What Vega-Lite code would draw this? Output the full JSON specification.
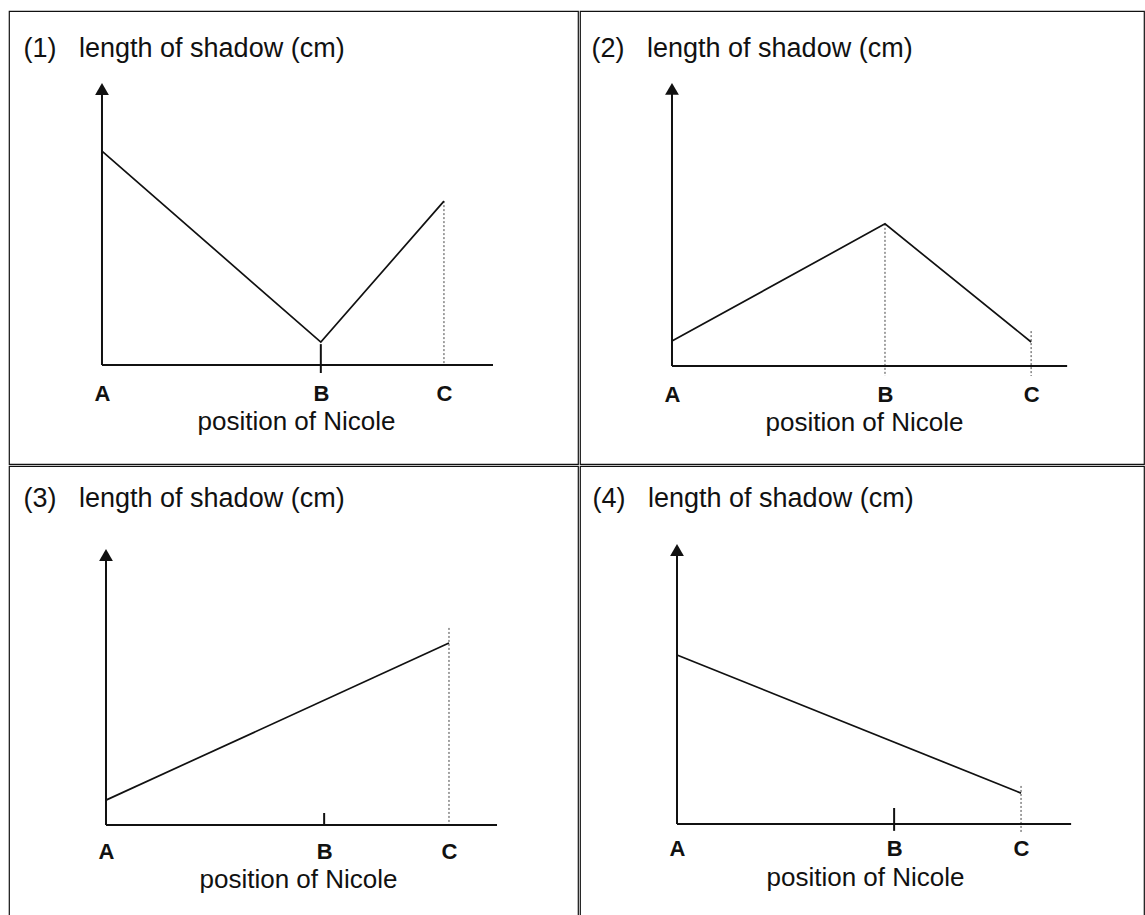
{
  "$schema": "https://vega.github.io/schema/vega-lite/v6.json",
  "background": "white",
  "padding": {"left": 8, "top": 10, "right": 0, "bottom": 0},
  "data": {"values": [
    {"panel": 1, "kind": "curve", "x": 0, "y": 7.48},
    {"panel": 1, "kind": "curve", "x": 6.38, "y": 0.8},
    {"panel": 1, "kind": "curve", "x": 9.97, "y": 5.73},
    {"panel": 1, "kind": "axis", "x": 0, "y": 0, "x2": 11.4, "y2": 0},
    {"panel": 1, "kind": "axis", "x": 0, "y": 0, "x2": 0, "y2": 9.65},
    {"panel": 1, "kind": "arrow", "x": 0, "y": 9.65},
    {"panel": 1, "kind": "guide", "x": 9.97, "y": 5.73, "x2": 9.97, "y2": 0},
    {"panel": 1, "kind": "tick", "x": 6.38, "y": 0.73, "x2": 6.38, "y2": -0.28},

    {"panel": 2, "kind": "curve", "x": 0, "y": 0.87},
    {"panel": 2, "kind": "curve", "x": 6.21, "y": 4.97},
    {"panel": 2, "kind": "curve", "x": 10.47, "y": 0.84},
    {"panel": 2, "kind": "axis", "x": 0, "y": 0, "x2": 11.52, "y2": 0},
    {"panel": 2, "kind": "axis", "x": 0, "y": 0, "x2": 0, "y2": 9.69},
    {"panel": 2, "kind": "arrow", "x": 0, "y": 9.69},
    {"panel": 2, "kind": "guide", "x": 6.21, "y": 4.97, "x2": 6.21, "y2": -0.35},
    {"panel": 2, "kind": "guide", "x": 10.47, "y": 1.22, "x2": 10.47, "y2": -0.35},

    {"panel": 3, "kind": "curve", "x": 0, "y": 0.87},
    {"panel": 3, "kind": "curve", "x": 10.0, "y": 6.36},
    {"panel": 3, "kind": "axis", "x": 0, "y": 0, "x2": 11.4, "y2": 0},
    {"panel": 3, "kind": "axis", "x": 0, "y": 0, "x2": 0, "y2": 9.44},
    {"panel": 3, "kind": "arrow", "x": 0, "y": 9.44},
    {"panel": 3, "kind": "guide", "x": 10.0, "y": 6.89, "x2": 10.0, "y2": 0},
    {"panel": 3, "kind": "tick", "x": 6.36, "y": 0.42, "x2": 6.36, "y2": 0},

    {"panel": 4, "kind": "curve", "x": 0, "y": 5.91},
    {"panel": 4, "kind": "curve", "x": 10.03, "y": 1.08},
    {"panel": 4, "kind": "axis", "x": 0, "y": 0, "x2": 11.49, "y2": 0},
    {"panel": 4, "kind": "axis", "x": 0, "y": 0, "x2": 0, "y2": 9.58},
    {"panel": 4, "kind": "arrow", "x": 0, "y": 9.58},
    {"panel": 4, "kind": "guide", "x": 10.03, "y": 1.33, "x2": 10.03, "y2": -0.31},
    {"panel": 4, "kind": "tick", "x": 6.33, "y": 0.56, "x2": 6.33, "y2": -0.24}
  ]},
  "spacing": 0,
  "vconcat": [
    {
      "spacing": 0,
      "hconcat": [
        {
          "width": 569, "height": 453,
          "transform": [{"filter": "datum.panel == 1"}],
          "encoding": {
            "x": {"field": "x", "type": "quantitative", "scale": {"domain": [-2.711, 13.878], "nice": false, "zero": false},
                  "axis": {"offset": -99, "values": [0, 6.38, 9.97], "labelExpr": "datum.value < 1 ? 'A' : datum.value < 8 ? 'B' : 'C'", "labelPadding": 35, "title": "position of Nicole", "titleX": 287, "titleY": 64}},
            "y": {"field": "y", "type": "quantitative", "scale": {"domain": [-3.462, 12.378], "nice": false, "zero": false},
                  "axis": {"title": "(1)\u00a0\u00a0\u00a0length of shadow (cm)", "titleX": 14, "titleY": 45}}
          },
          "layer": [
            {"transform": [{"filter": "datum.kind == 'guide'"}], "mark": {"type": "rule", "strokeDash": [2, 2], "strokeWidth": 1, "color": "#444"}, "encoding": {"x2": {"field": "x2"}, "y2": {"field": "y2"}}},
            {"transform": [{"filter": "datum.kind == 'axis'"}], "mark": {"type": "rule", "strokeWidth": 2, "color": "#111"}, "encoding": {"x2": {"field": "x2"}, "y2": {"field": "y2"}}},
            {"transform": [{"filter": "datum.kind == 'tick'"}], "mark": {"type": "rule", "strokeWidth": 2, "color": "#111"}, "encoding": {"x2": {"field": "x2"}, "y2": {"field": "y2"}}},
            {"transform": [{"filter": "datum.kind == 'curve'"}], "mark": {"type": "line", "strokeWidth": 1.7, "color": "#111"}},
            {"transform": [{"filter": "datum.kind == 'arrow'"}], "mark": {"type": "point", "shape": "triangle-up", "filled": true, "size": 190, "color": "#111", "opacity": 1}}
          ]
        },
        {
          "width": 564, "height": 453,
          "transform": [{"filter": "datum.panel == 2"}],
          "encoding": {
            "x": {"field": "x", "type": "quantitative", "scale": {"domain": [-2.682, 13.761], "nice": false, "zero": false},
                  "axis": {"offset": -98, "values": [0, 6.21, 10.47], "labelExpr": "datum.value < 1 ? 'A' : datum.value < 8 ? 'B' : 'C'", "labelPadding": 35, "title": "position of Nicole", "titleX": 284, "titleY": 64}},
            "y": {"field": "y", "type": "quantitative", "scale": {"domain": [-3.427, 12.413], "nice": false, "zero": false},
                  "axis": {"title": "(2)\u00a0\u00a0\u00a0length of shadow (cm)", "titleX": 11, "titleY": 45}}
          },
          "layer": [
            {"transform": [{"filter": "datum.kind == 'guide'"}], "mark": {"type": "rule", "strokeDash": [2, 2], "strokeWidth": 1, "color": "#444"}, "encoding": {"x2": {"field": "x2"}, "y2": {"field": "y2"}}},
            {"transform": [{"filter": "datum.kind == 'axis'"}], "mark": {"type": "rule", "strokeWidth": 2, "color": "#111"}, "encoding": {"x2": {"field": "x2"}, "y2": {"field": "y2"}}},
            {"transform": [{"filter": "datum.kind == 'curve'"}], "mark": {"type": "line", "strokeWidth": 1.7, "color": "#111"}},
            {"transform": [{"filter": "datum.kind == 'arrow'"}], "mark": {"type": "point", "shape": "triangle-up", "filled": true, "size": 190, "color": "#111", "opacity": 1}}
          ]
        }
      ]
    },
    {
      "spacing": 0,
      "hconcat": [
        {
          "width": 569, "height": 453,
          "transform": [{"filter": "datum.panel == 3"}],
          "encoding": {
            "x": {"field": "x", "type": "quantitative", "scale": {"domain": [-2.828, 13.761], "nice": false, "zero": false},
                  "axis": {"offset": -94, "values": [0, 6.36, 10.0], "labelExpr": "datum.value < 1 ? 'A' : datum.value < 8 ? 'B' : 'C'", "labelPadding": 33, "title": "position of Nicole", "titleX": 289, "titleY": 62}},
            "y": {"field": "y", "type": "quantitative", "scale": {"domain": [-3.287, 12.552], "nice": false, "zero": false},
                  "axis": {"title": "(3)\u00a0\u00a0\u00a0length of shadow (cm)", "titleX": 14, "titleY": 40}}
          },
          "layer": [
            {"transform": [{"filter": "datum.kind == 'guide'"}], "mark": {"type": "rule", "strokeDash": [2, 2], "strokeWidth": 1, "color": "#444"}, "encoding": {"x2": {"field": "x2"}, "y2": {"field": "y2"}}},
            {"transform": [{"filter": "datum.kind == 'axis'"}], "mark": {"type": "rule", "strokeWidth": 2, "color": "#111"}, "encoding": {"x2": {"field": "x2"}, "y2": {"field": "y2"}}},
            {"transform": [{"filter": "datum.kind == 'tick'"}], "mark": {"type": "rule", "strokeWidth": 2, "color": "#111"}, "encoding": {"x2": {"field": "x2"}, "y2": {"field": "y2"}}},
            {"transform": [{"filter": "datum.kind == 'curve'"}], "mark": {"type": "line", "strokeWidth": 1.7, "color": "#111"}},
            {"transform": [{"filter": "datum.kind == 'arrow'"}], "mark": {"type": "point", "shape": "triangle-up", "filled": true, "size": 190, "color": "#111", "opacity": 1}}
          ]
        },
        {
          "width": 564, "height": 453,
          "transform": [{"filter": "datum.panel == 4"}],
          "encoding": {
            "x": {"field": "x", "type": "quantitative", "scale": {"domain": [-2.828, 13.615], "nice": false, "zero": false},
                  "axis": {"offset": -95, "values": [0, 6.33, 10.03], "labelExpr": "datum.value < 1 ? 'A' : datum.value < 8 ? 'B' : 'C'", "labelPadding": 31, "title": "position of Nicole", "titleX": 285, "titleY": 61}},
            "y": {"field": "y", "type": "quantitative", "scale": {"domain": [-3.322, 12.517], "nice": false, "zero": false},
                  "axis": {"title": "(4)\u00a0\u00a0\u00a0length of shadow (cm)", "titleX": 12, "titleY": 40}}
          },
          "layer": [
            {"transform": [{"filter": "datum.kind == 'guide'"}], "mark": {"type": "rule", "strokeDash": [2, 2], "strokeWidth": 1, "color": "#444"}, "encoding": {"x2": {"field": "x2"}, "y2": {"field": "y2"}}},
            {"transform": [{"filter": "datum.kind == 'axis'"}], "mark": {"type": "rule", "strokeWidth": 2, "color": "#111"}, "encoding": {"x2": {"field": "x2"}, "y2": {"field": "y2"}}},
            {"transform": [{"filter": "datum.kind == 'tick'"}], "mark": {"type": "rule", "strokeWidth": 2, "color": "#111"}, "encoding": {"x2": {"field": "x2"}, "y2": {"field": "y2"}}},
            {"transform": [{"filter": "datum.kind == 'curve'"}], "mark": {"type": "line", "strokeWidth": 1.7, "color": "#111"}},
            {"transform": [{"filter": "datum.kind == 'arrow'"}], "mark": {"type": "point", "shape": "triangle-up", "filled": true, "size": 190, "color": "#111", "opacity": 1}}
          ]
        }
      ]
    }
  ],
  "config": {
    "view": {"stroke": "#111", "strokeWidth": 1.2},
    "axis": {
      "grid": false, "domain": false, "ticks": false, "tickSize": 0,
      "labelFont": "Liberation Sans", "titleFont": "Liberation Sans",
      "labelColor": "#111", "titleColor": "#111",
      "titleFontWeight": "normal"
    },
    "axisX": {
      "labelFontSize": 22, "labelFontWeight": "bold", "labelBaseline": "alphabetic",
      "labelFlush": false, "labelOverlap": false, "labelBound": false,
      "titleFontSize": 26, "titleBaseline": "alphabetic", "titleAlign": "center", "titleAnchor": "middle"
    },
    "axisY": {
      "labels": false, "titleAngle": 0, "titleAlign": "left", "titleBaseline": "alphabetic",
      "titleFontSize": 27, "titleAnchor": "start"
    }
  }
}
